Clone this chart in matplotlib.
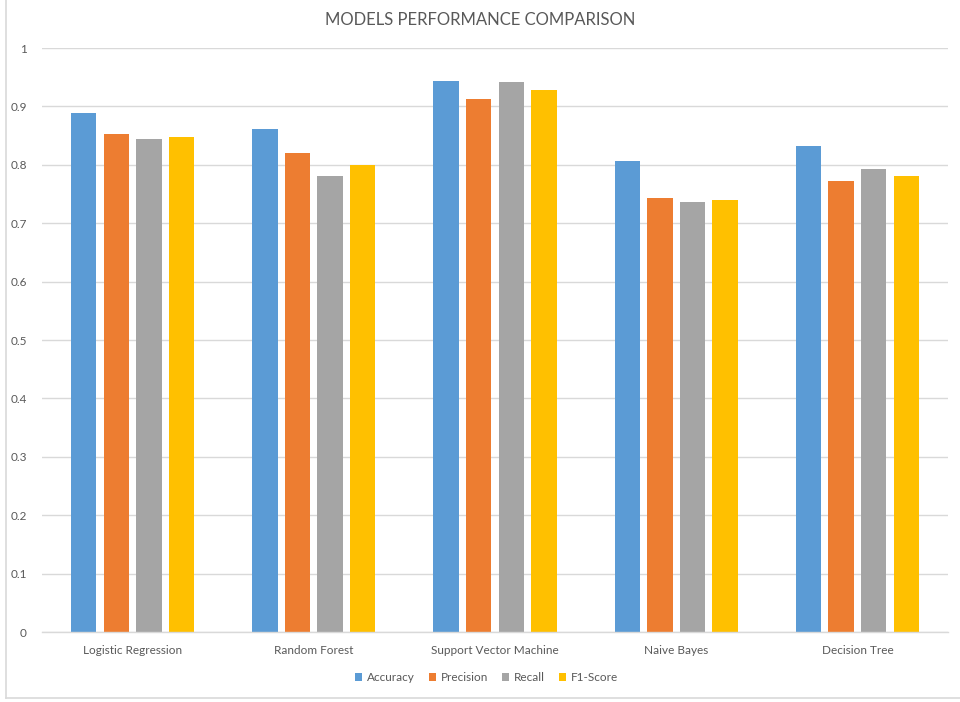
import numpy as np
import matplotlib
matplotlib.use("Agg")
import matplotlib.pyplot as plt
from matplotlib.lines import Line2D

models = ["Logistic Regression", "Random Forest", "Support Vector Machine", "Naive Bayes", "Decision Tree"]
metrics = ["Accuracy", "Precision", "Recall", "F1-Score"]
accuracy = [0.889, 0.861, 0.944, 0.806, 0.832]
precision = [0.852, 0.821, 0.913, 0.744, 0.773]
recall = [0.845, 0.781, 0.941, 0.737, 0.792]
f1_score = [0.847, 0.800, 0.928, 0.740, 0.781]
yticks = [0, 0.1, 0.2, 0.3, 0.4, 0.5, 0.6, 0.7, 0.8, 0.9, 1]
ytick_labels = ["0", "0.1", "0.2", "0.3", "0.4", "0.5", "0.6", "0.7", "0.8", "0.9", "1"]

colors = ["#5B9BD5", "#ED7D31", "#A5A5A5", "#FFC000"]
text_color = "#595959"
grid_color = "#D9D9D9"

plt.rcParams['font.family'] = ['Lato', 'DejaVu Sans']

fig = plt.figure(figsize=(9.6, 7.02), dpi=100)
ax = fig.add_axes([0.04375, 0.0997, 0.94375, 0.8319])

x = np.arange(len(models))
width = 0.141
step = 0.18
series = [accuracy, precision, recall, f1_score]
for i, (vals, name) in enumerate(zip(series, metrics)):
    offset = (i - 1.5) * step
    ax.bar(x + offset, vals, width=width, color=colors[i], label=name, zorder=3)

ax.set_xlim(-0.5, len(models) - 0.5)
ax.set_ylim(0, 1)
ax.set_yticks(yticks)
ax.set_yticklabels(ytick_labels)
ax.set_xticks(x)
ax.set_xticklabels(models)
ax.tick_params(axis='both', length=0, colors=text_color, labelsize=8.5)
ax.tick_params(axis='y', pad=11)
ax.tick_params(axis='x', pad=9)
ax.yaxis.grid(True, color=grid_color, linewidth=1, zorder=0)
for s in ["top", "right", "left"]:
    ax.spines[s].set_visible(False)
ax.spines["bottom"].set_color(grid_color)
ax.spines["bottom"].set_linewidth(1)
ax.spines["bottom"].set_zorder(4)

fig.text(0.5, 0.972, "MODELS PERFORMANCE COMPARISON", ha='center', va='center',
         fontsize=12, color=text_color)

leg = fig.legend(loc='center', bbox_to_anchor=(0.507, 0.035), ncol=4, frameon=False,
                 fontsize=8.5, handlelength=0.6, handleheight=0.6, handletextpad=0.4,
                 columnspacing=1.2, labelcolor=text_color)

# outer chart border (only left and bottom edges show in the screenshot)
fig.add_artist(Line2D([0.0065, 0.0065], [0.006, 1.0], transform=fig.transFigure,
                      color=grid_color, linewidth=1.2))
fig.add_artist(Line2D([0.0065, 1.0], [0.006, 0.006], transform=fig.transFigure,
                      color=grid_color, linewidth=1.2))

fig.savefig("out.png", dpi=100)
